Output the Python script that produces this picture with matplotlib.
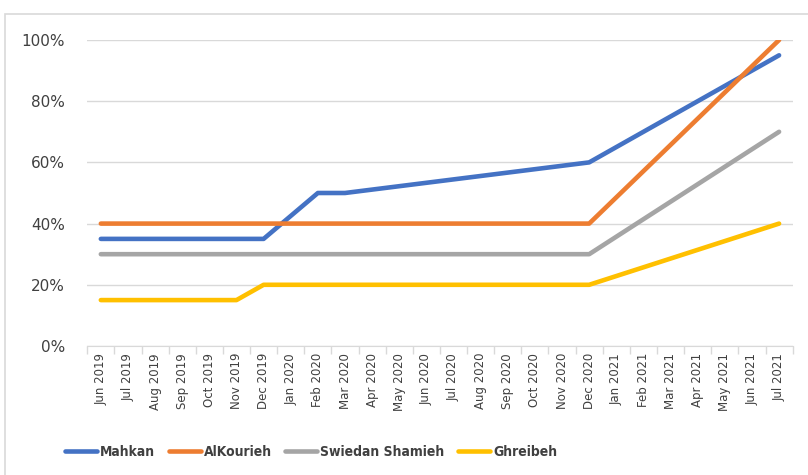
import numpy as np
import matplotlib.pyplot as plt
from matplotlib.patches import Rectangle
from matplotlib.ticker import PercentFormatter

# Meses
months = ['Jun 2019', 'Jul 2019', 'Aug 2019', 'Sep 2019', 'Oct 2019', 'Nov 2019',
          'Dec 2019', 'Jan 2020', 'Feb 2020', 'Mar 2020', 'Apr 2020', 'May 2020',
          'Jun 2020', 'Jul 2020', 'Aug 2020', 'Sep 2020', 'Oct 2020', 'Nov 2020',
          'Dec 2020', 'Jan 2021', 'Feb 2021', 'Mar 2021', 'Apr 2021', 'May 2021',
          'Jun 2021', 'Jul 2021']

# Valores (None = sin dato, la linea une los puntos conocidos)
mahkan = [0.35] * 7 + [None, 0.50, 0.50] + [None] * 8 + [0.60] + [None] * 6 + [0.95]
alkourieh = [0.40] * 19 + [None] * 6 + [1.00]
swiedan = [0.30] * 19 + [None] * 6 + [0.70]
ghreibeh = [0.15] * 6 + [0.20] * 13 + [None] * 6 + [0.40]

series = [('Mahkan', mahkan, '#4472C4'),
          ('AlKourieh', alkourieh, '#ED7D31'),
          ('Swiedan Shamieh', swiedan, '#A5A5A5'),
          ('Ghreibeh', ghreibeh, '#FFC000')]

fig = plt.figure(figsize=(8.08, 4.75), dpi=100)
fig.patches.append(Rectangle((5 / 808, -0.1), 1.1, 1 - 14 / 475 + 0.1,
                             transform=fig.transFigure, fill=False,
                             edgecolor='#D9D9D9', linewidth=1.2))
ax = fig.add_axes([0.108, 0.2716, 0.873, 0.6442])

x_all = np.arange(len(months))
for name, vals, color in series:
    xs = [i for i, v in zip(x_all, vals) if v is not None]
    ys = [v for v in vals if v is not None]
    ax.plot(xs, ys, color=color, linewidth=3.3, label=name,
            solid_capstyle='round', solid_joinstyle='round')

ax.set_xlim(-0.5, len(months) - 0.5)
ax.set_ylim(0, 1.0)
ax.yaxis.set_major_locator(plt.MultipleLocator(0.2))
ax.yaxis.set_major_formatter(PercentFormatter(1.0, decimals=0))
ax.grid(axis='y', color='#D9D9D9', linewidth=1)
ax.set_axisbelow(True)

ax.set_xticks(x_all)
ax.set_xticklabels(months, rotation=90, fontsize=8.5, color='#404040')
ax.set_xticks(np.arange(-0.5, len(months)), minor=True)
ax.tick_params(axis='x', which='major', length=0, pad=5)
ax.tick_params(axis='x', which='minor', length=6, color='#D9D9D9', width=1)
ax.tick_params(axis='y', length=0, pad=16, labelsize=11, labelcolor='#404040')

for s in ['top', 'right', 'left']:
    ax.spines[s].set_visible(False)
ax.spines['bottom'].set_color('#D9D9D9')

leg = fig.legend(loc='center', bbox_to_anchor=(0.385, 0.048), ncol=4, frameon=False,
                 handlelength=2.3, columnspacing=1.0, handletextpad=0.2,
                 prop={'family': ['DejaVu Sans'], 'stretch': 'condensed',
                       'weight': 'bold', 'size': 10})
for t in leg.get_texts():
    t.set_color('#404040')

plt.savefig('out.png', dpi=100)
